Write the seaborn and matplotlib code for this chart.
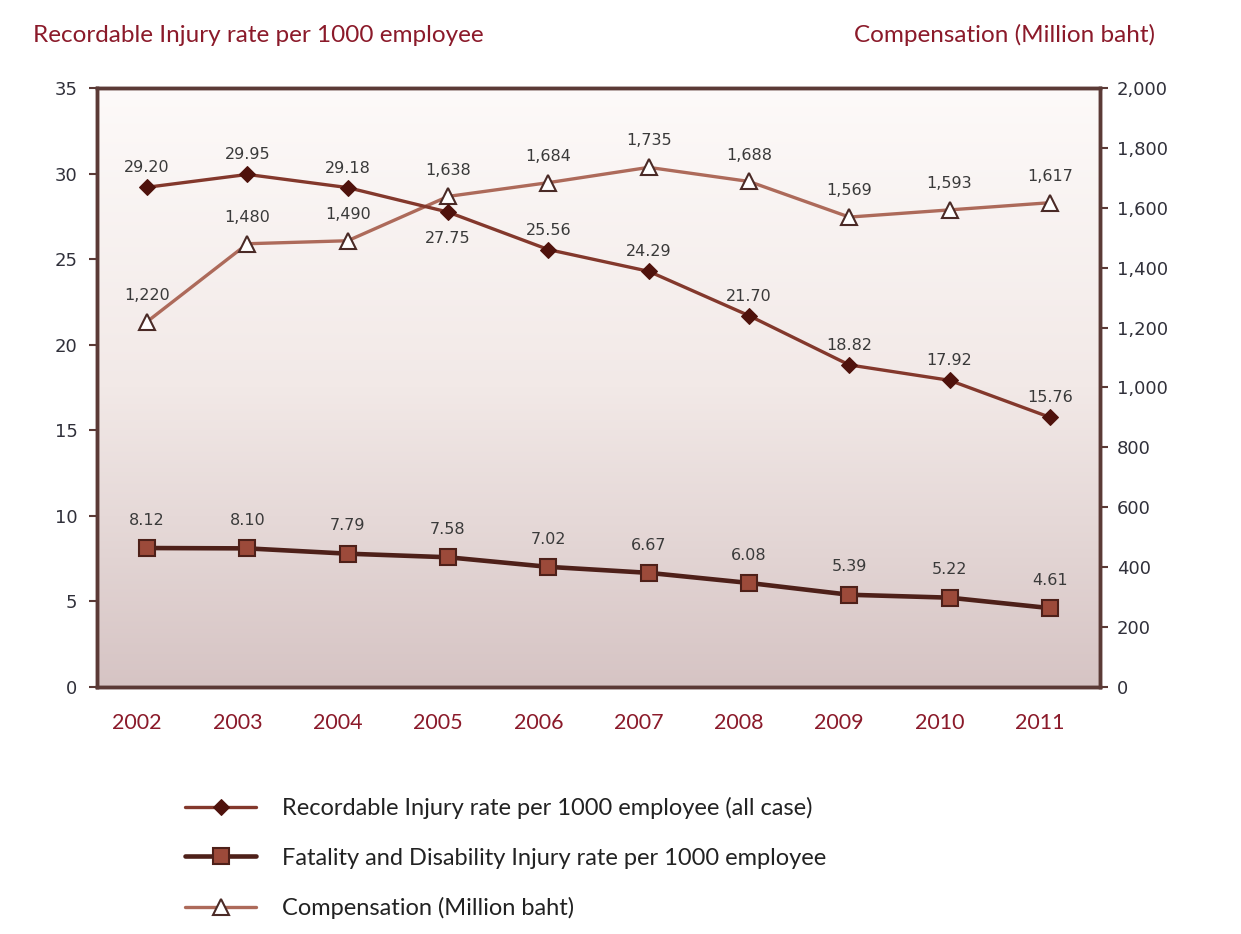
import numpy as np
import matplotlib
matplotlib.use("Agg")
import matplotlib.pyplot as plt
import matplotlib.transforms as mtransforms
import seaborn as sns
from matplotlib.colors import LinearSegmentedColormap

years = ["2002", "2003", "2004", "2005", "2006", "2007", "2008", "2009", "2010", "2011"]
recordable = [29.20, 29.95, 29.18, 27.75, 25.56, 24.29, 21.70, 18.82, 17.92, 15.76]
fatality = [8.12, 8.10, 7.79, 7.58, 7.02, 6.67, 6.08, 5.39, 5.22, 4.61]
compensation = [1220, 1480, 1490, 1638, 1684, 1735, 1688, 1569, 1593, 1617]

left_ticks = [0, 5, 10, 15, 20, 25, 30, 35]
right_ticks = [0, 200, 400, 600, 800, 1000, 1200, 1400, 1600, 1800, 2000]

sns.set_theme(style="white")
plt.rcParams['font.family'] = ['DejaVu Sans']

fig = plt.figure(figsize=(12.41, 9.34), dpi=100)
rect = [97/1241, 1-687/934, (1100-97)/1241, (687-88)/934]

# background gradient axes
bg = fig.add_axes(rect, zorder=0)
cmap = LinearSegmentedColormap.from_list("bg", ["#fdfaf9", "#f2e9e7", "#d6c4c4"])
grad = np.linspace(0, 1, 256).reshape(-1, 1)
bg.imshow(grad, cmap=cmap, aspect="auto", extent=[0, 1, 0, 1])
bg.set_axis_off()

ax = fig.add_axes(rect, zorder=2)
ax2 = ax.twinx()
ax2.set_zorder(1)
ax.patch.set_visible(False)
ax2.patch.set_visible(False)

spine_c = "#5b3a36"
c_rec_line = "#83382c"
c_rec_mk = "#4f120c"
c_fat_line = "#4e2019"
c_fat_fill = "#9c4a3a"
c_comp_line = "#ad6a5a"
title_c = "#8b1a2a"
label_c = "#30303a"

x = np.arange(len(years))

sns.lineplot(x=x, y=recordable, ax=ax, color=c_rec_line, lw=2.4, marker="D", markersize=8,
             markerfacecolor=c_rec_mk, markeredgecolor=c_rec_mk, zorder=3,
             label="Recordable Injury rate per 1000 employee (all case)", legend=False)
sns.lineplot(x=x, y=fatality, ax=ax, color=c_fat_line, lw=3.3, marker="s", markersize=11,
             markerfacecolor=c_fat_fill, markeredgecolor=c_fat_line, markeredgewidth=1.5, zorder=3,
             label="Fatality and Disability Injury rate per 1000 employee", legend=False)
sns.lineplot(x=x, y=compensation, ax=ax2, color=c_comp_line, lw=2.4, marker="^", markersize=12,
             markerfacecolor="white", markeredgecolor="#4a2a26", markeredgewidth=1.5, zorder=3,
             label="Compensation (Million baht)", legend=False)

ax.set_xlim(-0.5, len(years) - 0.5)
ax2.set_xlim(-0.5, len(years) - 0.5)
ax.set_ylim(0, 35)
ax2.set_ylim(0, 2000)
ax.set_yticks(left_ticks)
ax2.set_yticks(right_ticks)
ax2.set_yticklabels([f"{v:,}" for v in right_ticks])
ax.set_xticks(x)
ax.set_xticklabels(years)

for a in (ax, ax2):
    for s in a.spines.values():
        s.set_color(spine_c)
        s.set_linewidth(2.5)
    a.grid(False)
    a.set_xlabel("")
    a.set_ylabel("")
ax.tick_params(axis="y", direction="out", length=6, width=1.5, color=spine_c, labelsize=13,
               labelcolor=label_c, pad=8)
ax2.tick_params(axis="y", direction="out", length=6, width=1.5, color=spine_c, labelsize=13,
                labelcolor=label_c, pad=6)
ax.tick_params(axis="x", length=0, labelsize=15.5, labelcolor=title_c, pad=19)
shift = mtransforms.ScaledTranslation(-10/100, 0, fig.dpi_scale_trans)
for t in ax.get_xticklabels():
    t.set_family(["Lato", "DejaVu Sans"])
    t.set_transform(t.get_transform() + shift)

lab_kw = dict(fontsize=11.5, color="#3a3a3a", ha="center", va="center", textcoords="offset points")
for i, v in enumerate(recordable):
    dy = -19 if i == 3 else 14
    ax.annotate(f"{v:.2f}", (i, v), xytext=(0, dy), **lab_kw)
for i, v in enumerate(fatality):
    ax.annotate(f"{v:.2f}", (i, v), xytext=(0, 20), **lab_kw)
for i, v in enumerate(compensation):
    ax2.annotate(f"{v:,}", (i, v), xytext=(0, 19), **lab_kw)

fig.text(33/1241, 1-35/934, "Recordable Injury rate per 1000 employee", fontsize=17.5,
         color=title_c, ha="left", va="center", family=["Lato", "DejaVu Sans"])
fig.text(1155/1241, 1-35/934, "Compensation (Million baht)", fontsize=17.5,
         color=title_c, ha="right", va="center", family=["Lato", "DejaVu Sans"])

h1, l1 = ax.get_legend_handles_labels()
h2, l2 = ax2.get_legend_handles_labels()
leg = fig.legend(h1 + h2, l1 + l2, loc="upper left", bbox_to_anchor=(164/1241, 1-776/934),
                 frameon=False, handlelength=3.0, labelspacing=1.2, handletextpad=1.1,
                 prop={"family": ["Lato", "DejaVu Sans"], "size": 17}, labelcolor="#222222")

fig.savefig("out.png", dpi=100, facecolor="white")
